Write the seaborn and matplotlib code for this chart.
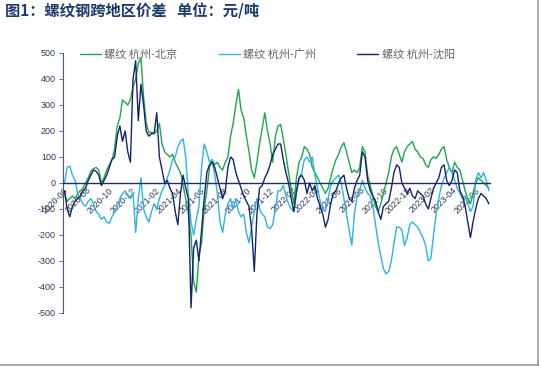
import numpy as np
import pandas as pd
import matplotlib
matplotlib.use("Agg")
import matplotlib.pyplot as plt
import matplotlib.dates as mdates
from matplotlib.lines import Line2D
import seaborn as sns

# ---- data (weekly readings, 元/吨) ----
start_date = "2020-06-05"
series_names = ["螺纹 杭州-北京", "螺纹 杭州-广州", "螺纹 杭州-沈阳"]

hz_bj = [-40, -70, -60, -50, -60, -40, -30, -20, 0, 20,
         45, 55, 60, 50, 0, 20, 50, 70, 90, 130,
         220, 250, 320, 310, 300, 320, 370, 400, 460, 480,
         330, 230, 195, 195, 190, 200, 230, 150, 120, 110,
         100, 110, 80, 60, 40, -10, -60, -120, -200, -380,
         -420, -280, -230, -100, -30, 60, 90, 70, 80, 60,
         50, 80, 100, 180, 230, 300, 360, 280, 250, 180,
         120, 50, 20, 80, 150, 210, 270, 200, 150, 80,
         180, 220,
         225, 170, 110, 40, -20, -80, 20, 80,
         100, 140, 130, 110, 60, 40, 20, 0, -20, -40,
         -20, 20, 60, 90, 110, 140, 155, 120, 80, 40,
         50, 40, 60, 140, 120, 30, -10, -50, -90, -110,
         -80, -40, 0, 40, 100, 130, 140, 110, 80, 120,
         140, 150, 160, 130, 120, 100, 95, 70, 60, 90,
         100, 95, 110, 130, 140, 90, 60, 40, 80, 60,
         50, 10, -30, -60, -80, -40, 0, 20, 10, 0,
         -10, -20]

hz_gz = [0, 60, 65, 30, 10, -40, -60, -80, -90, -70,
         -60, -80, -110, -120, -140, -130, -150, -155, -130, -110,
         -90, -60, -40, -30, -50, -60, -40, -190, -60, 20,
         -100, -130, -150, -110, -80, -100, -60, -30, -10, 20,
         50, 90, 100, 140, 160, 170, 100, -50, -150, -200,
         -140, -90, 60, 150, 120, 80, 90, 30, -40, -150,
         -190, -120, -80, -60, -100, -60, -110, -130, -120, -190,
         -230, -170, -110, -60, -100, -120, -130, -170, -175, -160,
         -100, -30,
         -30, -10, -50, -80, -100, -110, -40, 20,
         40, 90, 100, 80, 100, 30, -20, -70, -100, -110,
         -60, -10, 10, 20, 30, 0, -60, -120, -180, -240,
         -120, -50, -30, 10, -20, -40, -50, -90, -160, -230,
         -280, -330, -350, -340, -300, -230, -170, -170, -180, -240,
         -210, -160, -150, -160, -170, -190, -210, -240, -300, -290,
         -200, -120, -60, -10, 20, 40, 60, 40, 10, -20,
         -40, -60, -50, -80, -110, -90, 10, 40, 20, 40,
         10, -30]

hz_sy = [-30, -100, -130, -90, -70, -60, -50, -30, -20, 10,
         30, 50, 45, 30, -10, 10, 30, 60, 90, 100,
         180, 220, 160, 200, 120, 80, 400, 470, 240, 380,
         300, 200, 180, 190, 190, 270, 100, 50, 0, 10,
         -20, -40, -110, -160, -40, 30, -20, -60, -480, -250,
         -220, -300, -180, -60, 40, 70, 80, 60, 20, -20,
         -60, -30, 60, 100, 90, 40, 10, -20, -50, -70,
         -90, -180, -340, -120, -20, -10, 20, 40, 70, 110,
         130, 150,
         150, 90, 40, 0, -60, -110, -30, 20,
         30, 10, -40, 0, -30, -10, -60, -90, -120, -170,
         -140, -80, -40, -30, 0, 20, 30, -20, -60, -70,
         -20, 10, 30, 120, 100, 10, -30, -50, -70, -110,
         -140, -90, -80, -70, -20, 40, 70, 60, 0, -20,
         -40, -20, -50, -60, -30, -40, -50, -80, -100, -60,
         -20, 0, 20, 60, 70, 10, -10, 10, 50, 40,
         -30, -50, -90, -150, -210, -150, -100, -60, -40, -50,
         -60, -80]

colors = ["#1FA64A", "#2DB3E6", "#14256B"]

dates = pd.date_range(start_date, periods=len(hz_bj), freq="7D")
df = pd.DataFrame({
    "日期": np.tile(dates, 3),
    "价差": hz_bj + hz_gz + hz_sy,
    "系列": np.repeat(series_names, len(dates)),
})

sns.set_theme(style="white")
plt.rcParams["font.family"] = ["Liberation Sans", "Noto Sans CJK SC", "DejaVu Sans"]
plt.rcParams["axes.unicode_minus"] = False

fig = plt.figure(figsize=(5.39, 3.66), dpi=100)
ax = fig.add_axes([63 / 539, 1 - 313 / 366, 427 / 539, 260 / 366])

sns.lineplot(data=df, x="日期", y="价差", hue="系列", palette=colors,
             linewidth=1.0, ax=ax)

ax.set_ylim(-500, 500)
ax.set_yticks(range(-500, 501, 100))
ax.set_xlim(pd.Timestamp("2020-06-01"), pd.Timestamp("2023-07-10"))
ax.xaxis.set_major_locator(mdates.MonthLocator(bymonth=[2, 4, 6, 8, 10, 12]))
ax.xaxis.set_major_formatter(mdates.DateFormatter("%Y-%m"))
ax.set_xlabel("")
ax.set_ylabel("")

for s in ["top", "right"]:
    ax.spines[s].set_visible(False)
ax.spines["bottom"].set_position(("data", 0))
ax.spines["bottom"].set_color("#1F3060")
ax.spines["bottom"].set_linewidth(1.0)
ax.spines["left"].set_color("#4A5878")
ax.spines["left"].set_linewidth(0.8)

ax.tick_params(axis="y", which="major", direction="out", length=3, width=0.6,
               color="#4A5878", labelsize=6.5, labelcolor="#2F3A5A", pad=2, left=True)
ax.tick_params(axis="x", which="major", length=0, labelsize=6.3,
               labelcolor="#2F3A5A", pad=2)
plt.setp(ax.get_xticklabels(), rotation=45, ha="right", rotation_mode="anchor")

handles, labels = ax.get_legend_handles_labels()
ax.legend(handles, labels, ncol=3, frameon=False, loc="upper left",
          bbox_to_anchor=((80 - 63) / 427, 1.015), fontsize=8,
          handlelength=1.9, handletextpad=0.3, columnspacing=3.7,
          borderaxespad=0, borderpad=0, labelcolor="#666666",
          prop={"family": ["Noto Sans CJK SC"], "size": 8})

fig.text(5 / 539, 1 - 11 / 366, "图1：螺纹钢跨地区价差   单位：元/吨",
         ha="left", va="center", fontsize=11, fontweight="bold",
         color="#1F3B6E", family=["Noto Sans CJK SC"])

fig.add_artist(Line2D([537.5 / 539, 537.5 / 539], [0, 1], transform=fig.transFigure,
                      color="#9A9A9A", linewidth=1.2))
fig.add_artist(Line2D([0, 1], [1.5 / 366, 1.5 / 366], transform=fig.transFigure,
                      color="#9A9A9A", linewidth=1.2))

fig.savefig("out.png", dpi=100)
